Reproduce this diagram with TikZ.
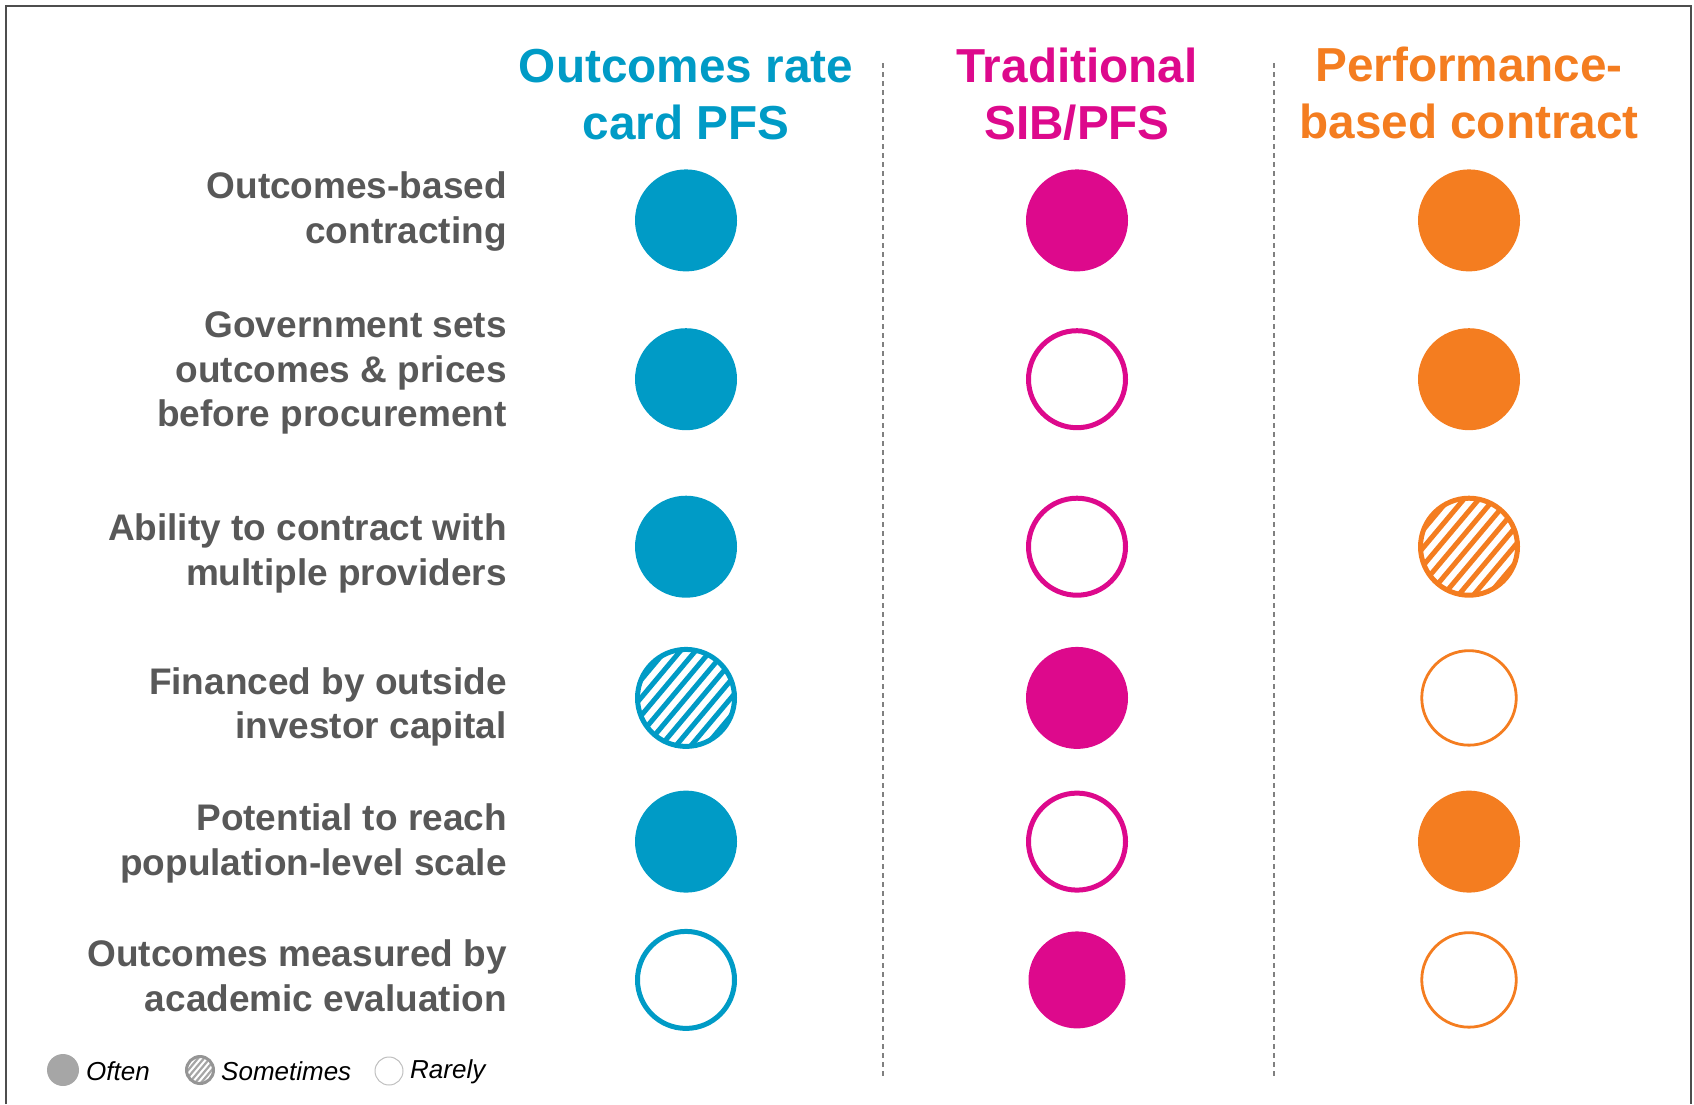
\documentclass[tikz,border=0pt]{standalone}
\usepackage{fontspec}
\setmainfont{Liberation Sans}
\usetikzlibrary{calc}
\definecolor{cblue}{RGB}{0,155,198}
\definecolor{cpink}{RGB}{221,9,140}
\definecolor{corange}{RGB}{244,125,32}
\definecolor{ctext}{RGB}{88,88,88}
\definecolor{cframe}{RGB}{77,77,77}
\definecolor{cgray}{RGB}{166,166,166}
\tikzset{
  dot/.style={circle, inner sep=0pt, minimum size=102pt, fill=#1},
  ring/.style={circle, inner sep=0pt, minimum size=97pt, draw=#1, line width=5pt},
  thinring/.style={circle, inner sep=0pt, minimum size=94.5pt, draw=#1, line width=2.8pt},
  hatch/.style={circle, inner sep=0pt, minimum size=97pt, draw=#1, line width=5pt,
    path picture={
      \foreach \k in {-5,...,5}
        \draw[#1, line width=5pt]
          ($(path picture bounding box.center)+({-\k*11.5*sin(50)*1pt-70*cos(50)*1pt},{\k*11.5*cos(50)*1pt-70*sin(50)*1pt})$)
          -- ($(path picture bounding box.center)+({-\k*11.5*sin(50)*1pt+70*cos(50)*1pt},{\k*11.5*cos(50)*1pt+70*sin(50)*1pt})$);}},
  header/.style={font=\fontsize{47.7}{57}\selectfont\bfseries, align=center, inner sep=0pt, anchor=center},
  rowlabel/.style={font=\fontsize{37}{44.5}\selectfont\bfseries, text=ctext, align=right, inner sep=0pt, anchor=east},
  sep/.style={draw=gray, line width=1.5pt, dash pattern=on 5pt off 4pt},
  legtext/.style={font=\fontsize{26}{30}\selectfont\itshape, text=black, inner sep=0pt, anchor=west},
}
\begin{document}
\begin{tikzpicture}[x=1pt,y=-1pt]
\useasboundingbox (0,0) rectangle (1694,1104);
\draw[cframe, line width=2.5pt] (6,1104) -- (6,6) -- (1691,6) -- (1691,1104);

% headers
\node[header, text=cblue] (h1) at (686,95) {Outcomes rate\\card PFS};
\node[header, text=cpink] (h2) at (1077,94.5) {Traditional\\SIB/PFS};
\node[header, text=corange] (h3) at (1469,93) {Performance-\\based contract};

% separators
\coordinate (s1t) at (883,63); \coordinate (s1b) at (883,1077);
\coordinate (s2t) at (1274,63); \coordinate (s2b) at (1274,1077);
\draw[sep] (s1t) -- (s1b);
\draw[sep] (s2t) -- (s2b);

% row labels
\node[rowlabel] (r1) at (507,211.5) {Outcomes-based\\contracting};
\node[rowlabel] (r2) at (507,373) {Government sets\\outcomes \& prices\\before procurement};
\node[rowlabel] (r3) at (507,553.5) {Ability to contract with\\multiple providers};
\node[rowlabel] (r4) at (507,707) {Financed by outside\\investor capital};
\node[rowlabel] (r5) at (507,843.5) {Potential to reach\\population-level scale};
\node[rowlabel] (r6) at (507,976) {Outcomes measured by\\academic evaluation};

% row 1
\node[dot=cblue] (c11) at (686,220.4) {};
\node[dot=cpink] (c12) at (1077,220.4) {};
\node[dot=corange] (c13) at (1469,220.4) {};
% row 2
\node[dot=cblue] (c21) at (686,379.2) {};
\node[ring=cpink] (c22) at (1077,379.2) {};
\node[dot=corange] (c23) at (1469,379.2) {};
% row 3
\node[dot=cblue] (c31) at (686,546.7) {};
\node[ring=cpink] (c32) at (1077,546.7) {};
\node[hatch=corange] (c33) at (1469,546.7) {};
% row 4
\node[hatch=cblue] (c41) at (686,697.9) {};
\node[dot=cpink] (c42) at (1077,697.9) {};
\node[thinring=corange] (c43) at (1469,697.9) {};
% row 5
\node[dot=cblue] (c51) at (686,841.6) {};
\node[ring=cpink] (c52) at (1077,841.6) {};
\node[dot=corange] (c53) at (1469,841.6) {};
% row 6
\node[ring=cblue] (c61) at (686,979.9) {};
\node[dot=cpink, minimum size=97pt] (c62) at (1077,979.9) {};
\node[thinring=corange] (c63) at (1469,979.9) {};

% legend
\node[circle, inner sep=0pt, minimum size=32pt, fill=cgray] (l1) at (63,1070) {};
\node[legtext] (t1) at (86,1071) {Often};
\node[circle, inner sep=0pt, minimum size=27pt, draw=cgray!90!black, line width=3pt, fill=white,
  path picture={
    \foreach \k in {-4,...,4}
      \draw[cgray, line width=2.2pt]
        ($(path picture bounding box.center)+({-\k*4.5*sin(50)*1pt-25*cos(50)*1pt},{\k*4.5*cos(50)*1pt-25*sin(50)*1pt})$)
        -- ($(path picture bounding box.center)+({-\k*4.5*sin(50)*1pt+25*cos(50)*1pt},{\k*4.5*cos(50)*1pt+25*sin(50)*1pt})$);}] (l2) at (200,1070) {};
\node[legtext] (t2) at (221,1071) {Sometimes};
\node[circle, inner sep=0pt, minimum size=28pt, draw=gray!50, line width=1pt] (l3) at (389,1071) {};
\node[legtext] (t3) at (410,1071.5) {Rarely};
\end{tikzpicture}
\end{document}
